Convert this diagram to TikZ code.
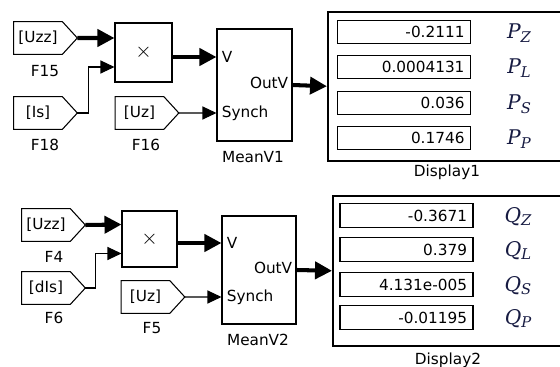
\documentclass[tikz,border=0pt]{standalone}
\usepackage{fontspec}
\setmainfont{DejaVu Sans}
\newfontfamily\symfont{DejaVu Serif}
\usetikzlibrary{arrows.meta,positioning}
\definecolor{SimInk}{HTML}{000000}
\definecolor{LabelNavy}{HTML}{171B42}
\newcommand{\qtysym}[2]{{\itshape #1\raisebox{-0.36ex}{\itshape\fontsize{8.4}{9}\selectfont #2}}}
\tikzset{
  every node/.style={font=\fontsize{8.7}{10}\selectfont, text=SimInk},
  block/.style={draw=SimInk, line width=0.6pt, inner sep=0pt},
  tagbox/.style={inner sep=0pt, minimum width=0.96cm, minimum height=0.64cm},
  valbox/.style={draw=SimInk, line width=0.8pt, inner xsep=0.12cm, inner ysep=0pt, text width=2.42cm, align=right, minimum height=0.47cm},
  dispbox/.style={draw=SimInk, line width=0.9pt, anchor=north west, inner sep=0pt, minimum width=6cm, minimum height=3cm},
  sym/.style={font=\symfont\fontsize{11.5}{13}\selectfont, text=LabelNavy},
  bus/.style={draw=SimInk, line width=2.3pt, -{Triangle[length=0.34cm,width=0.34cm]}},
  wire/.style={draw=SimInk, line width=0.6pt, -{Triangle[length=0.28cm,width=0.26cm]}},
}
\begin{document}
\begin{tikzpicture}[x=0.02cm, y=-0.02cm]
  \clip (0,0) rectangle (560,367);
  % upper chain
  \node[tagbox] (f15) at (38,38) {[Uzz]};
  \node[tagbox] (f18) at (38,113) {[Is]};
  \node[tagbox] (f16) at (139.5,113) {[Uz]};
  \node (f15cap) at (45,71) {F15};
  \node (f18cap) at (45,145) {F18};
  \node (f16cap) at (146,145) {F16};
  \node[block, minimum width=1.14cm, minimum height=1.18cm] (mul1) at (143.5,52.5) {\fontsize{13}{13}\selectfont$\times$};
  \node[block, minimum width=1.5cm, minimum height=2.24cm] (mean1) at (254.5,85) {};
  \node (mean1cap) at (253,157) {MeanV1};
  \node[dispbox, minimum height=2.98cm] (disp1) at (327,11) {};
  \node (disp1cap) at (447,172) {Display1};
  \foreach \y/\v/\s [count=\k] in {32/-0.2111/Z, 67/0.0004131/L, 103/0.036/S, 138/0.1746/P}{
    \node[valbox] (p\k) at (404,\y) {\v};
    \node[sym] (ps\k) at (519,\y+1) {\qtysym{P}{\s}};
  }
  % lower chain
  \node[tagbox] (f4) at (46,225) {[Uzz]};
  \node[tagbox] (f6) at (46,288) {[dIs]};
  \node[tagbox] (f5) at (145.5,297) {[Uz]};
  \node (f4cap) at (54,257) {F4};
  \node (f6cap) at (54,318) {F6};
  \node (f5cap) at (152,328) {F5};
  \node[block, minimum width=1.1cm, minimum height=1.12cm] (mul2) at (149.5,239) {\fontsize{13}{13}\selectfont$\times$};
  \node[block, minimum width=1.48cm, minimum height=2.16cm] (mean2) at (259,270) {};
  \node (mean2cap) at (258,340) {MeanV2};
  \node[dispbox] (disp2) at (332,195) {};
  \node (disp2cap) at (448,360) {Display2};
  \foreach \y/\v/\s [count=\k] in {215.5/-0.3671/Z, 249.5/0.379/L, 284.5/4.131e-005/S, 317.5/-0.01195/P}{
    \node[valbox] (q\k) at (406.5,\y) {\v};
    \node[sym] (qs\k) at (518,\y+1) {\qtysym{Q}{\s}};
  }
  % goto tags
  \foreach \t in {f15,f18,f16,f4,f6,f5}{
    \draw[line width=0.6pt] (\t.north west) -- (\t.north east) -- ([xshift=0.3cm]\t.east) coordinate (\t-out) -- (\t.south east) -- (\t.south west) -- cycle;
  }
  % ports
  \foreach \m in {1,2}{
    \coordinate (mul\m-a) at ([yshift=0.29cm]mul\m.west);
    \coordinate (mul\m-b) at ([yshift=-0.29cm]mul\m.west);
  }
  \coordinate (mean1-v) at ([yshift=0.56cm]mean1.west);
  \coordinate (mean1-s) at ([yshift=-0.56cm]mean1.west);
  \coordinate (mean2-v) at ([yshift=0.54cm]mean2.west);
  \coordinate (mean2-s) at ([yshift=-0.54cm]mean2.west);
  \foreach \m in {1,2}{
    \node[anchor=west, inner sep=0pt] (v\m) at ([xshift=0.1cm]mean\m-v) {V};
    \node[anchor=west, inner sep=0pt] (s\m) at ([xshift=0.1cm]mean\m-s) {Synch};
    \node[anchor=east, inner sep=0pt] (o\m) at ([xshift=-0.08cm, yshift=0.04cm]mean\m.east) {OutV};
  }
  % wires
  \draw[bus] (f15-out) -- (mul1-a);
  \draw[wire] (f18-out) -- ++(11,0) |- (mul1-b);
  \draw[bus] (mul1.east |- mean1-v) -- (mean1-v);
  \draw[wire] (f16-out) -- (mean1-s);
  \draw[bus] (mean1.east) -- (disp1.west);
  \draw[bus] (f4-out) -- (mul2-a);
  \draw[wire] (f6-out) -- ++(10,0) |- (mul2-b);
  \draw[bus] (mul2.east |- mean2-v) -- (mean2-v);
  \draw[wire] (f5-out) -- (mean2-s);
  \draw[bus] (mean2.east) -- (disp2.west);
\end{tikzpicture}
\end{document}
